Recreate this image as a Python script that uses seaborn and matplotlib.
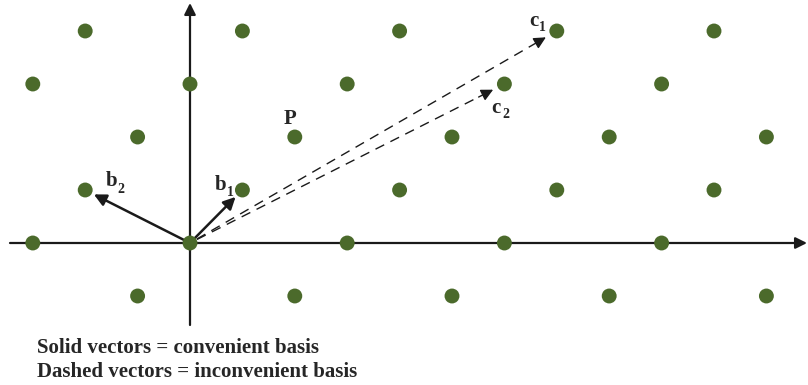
import matplotlib
matplotlib.use("Agg")
import matplotlib.pyplot as plt
import seaborn as sns
import pandas as pd
import numpy as np

sns.set_style("white")
plt.rcParams['font.family'] = ['Liberation Serif', 'DejaVu Serif']

# lattice points
pt_x = [-2, 1, 4, 7, 10,
        -3, 0, 3, 6, 9,
        -1, 2, 5, 8, 11,
        -2, 1, 4, 7, 10,
        -3, 0, 3, 6, 9,
        -1, 2, 5, 8, 11]
pt_y = [4, 4, 4, 4, 4,
        3, 3, 3, 3, 3,
        2, 2, 2, 2, 2,
        1, 1, 1, 1, 1,
        0, 0, 0, 0, 0,
        -1, -1, -1, -1, -1]

solid_labels = [('b', '1'), ('b', '2')]
solid_vecs = [(1, 1), (-2, 1)]
dashed_labels = [('c', '1'), ('c', '2')]
dashed_vecs = [(7, 4), (6, 3)]
p_label = 'P'
caption = ["Solid vectors = convenient basis", "Dashed vectors = inconvenient basis"]

W, H = 808, 385
fig = plt.figure(figsize=(W / 100, H / 100), dpi=100)
ax = fig.add_axes([0, 0, 1, 1])
ox, oy = 190, 243
sx, sy = 52.4, 53.0
ax.set_xlim(-ox / sx, (W - ox) / sx)
ax.set_ylim(-(H - oy) / sy, oy / sy)
ax.axis('off')


def px(x, y):
    return ((x - ox) / sx, (oy - y) / sy)


ink = '#1a1a1a'
# coordinate axes with arrows
ax.annotate('', xy=px(807, 243), xytext=px(10, 243),
            arrowprops=dict(arrowstyle='-|>', lw=1.6, color=ink, shrinkA=0, shrinkB=0,
                            mutation_scale=17), zorder=1)
ax.annotate('', xy=px(190, 3), xytext=px(190, 325),
            arrowprops=dict(arrowstyle='-|>', lw=1.6, color=ink, shrinkA=0, shrinkB=0,
                            mutation_scale=17), zorder=1)

df = pd.DataFrame({'x': pt_x, 'y': pt_y})
sns.scatterplot(data=df, x='x', y='y', ax=ax, s=115, color='#4b6a2b', edgecolor='none',
                zorder=5, legend=False)
ax.set_xlabel('')
ax.set_ylabel('')
ax.set_xlim(-ox / sx, (W - ox) / sx)
ax.set_ylim(-(H - oy) / sy, oy / sy)

# solid vectors
for (vx, vy) in solid_vecs:
    ax.annotate('', xy=(vx, vy), xytext=(0, 0),
                arrowprops=dict(arrowstyle='-|>', lw=1.8, color=ink, shrinkA=0, shrinkB=7,
                                mutation_scale=18), zorder=4)

# dashed vectors
for (vx, vy) in dashed_vecs:
    L = np.hypot(vx, vy)
    ux, uy = vx / L, vy / L
    tip = (vx - ux * 0.24, vy - uy * 0.24)
    base = (vx - ux * 0.55, vy - uy * 0.55)
    ax.plot([0.15 * ux, base[0]], [0.15 * uy, base[1]], color=ink, lw=1.0, dashes=(7, 5), zorder=3)
    ax.annotate('', xy=tip, xytext=base,
                arrowprops=dict(arrowstyle='-|>', lw=1.0, color=ink, shrinkA=0, shrinkB=0,
                                mutation_scale=18), zorder=4)

fs_main, fs_sub = 15, 10


def label(main, sub, mx, my, sxp, syp):
    ax.text(*px(mx, my), main, fontsize=fs_main, fontweight='bold', ha='left', va='baseline')
    ax.text(*px(sxp, syp), sub, fontsize=fs_sub, fontweight='bold', ha='left', va='baseline')


label(*solid_labels[0], 215, 190, 227, 196)
label(*solid_labels[1], 106, 186, 117, 193)
label(*dashed_labels[0], 529, 26, 539, 31)
label(*dashed_labels[1], 491, 113, 502, 118)
ax.text(*px(284, 124), p_label, fontsize=fs_main, fontweight='bold', ha='left', va='baseline')

fig.text(37 / W, 1 - 353 / H, caption[0], fontsize=15, fontweight='bold', ha='left', va='baseline')
fig.text(37 / W, 1 - 377 / H, caption[1], fontsize=15, fontweight='bold', ha='left', va='baseline')

fig.savefig('out.png', dpi=100)
